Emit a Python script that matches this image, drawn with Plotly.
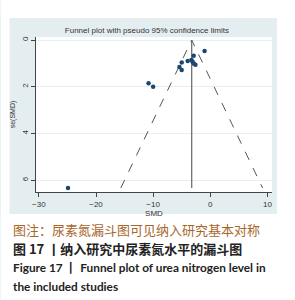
import plotly.graph_objects as go

# Data
smd = [-1.0, -2.9, -3.95, -3.3, -3.1, -2.9, -2.6, -5.0, -5.4, -5.0, -10.8, -10.0, -24.9]
se_smd = [0.47, 0.67, 0.90, 0.85, 0.93, 1.00, 1.06, 0.96, 1.15, 1.28, 1.85, 2.0, 6.33]
pooled = -3.25
x_ticks = [-30, -20, -10, 0, 10]
y_ticks = [0, 2, 4, 6]

W, H = 295, 300
L, R, T, B = 31, 272, 37, 192
pw, ph = R - L, B - T
BG = "#E4EEF1"


def px(xp):
    return (xp - L) / pw


def py(yp):
    return (B - yp) / ph


se_max = max(se_smd)
lo = pooled - 1.96 * se_max
hi = pooled + 1.96 * se_max

fig = go.Figure()
fig.add_trace(go.Scatter(x=[lo, pooled, hi], y=[se_max, 0, se_max], mode="lines",
                         line=dict(color="#555555", width=1, dash="dash"), hoverinfo="skip"))
fig.add_trace(go.Scatter(x=[pooled, pooled], y=[0, se_max], mode="lines",
                         line=dict(color="#666666", width=1.2), hoverinfo="skip"))
fig.add_trace(go.Scatter(x=smd, y=se_smd, mode="markers",
                         marker=dict(color="#1A476F", size=4.5)))

# white page around the light blue-grey graph region
for x0, x1, y0, y1 in [(-5, 300, -5, 18), (-5, 300, 214, 305), (-5, 4, -5, 305), (277, 300, -5, 305)]:
    fig.add_shape(type="rect", xref="paper", yref="paper", x0=px(x0), x1=px(x1), y0=py(y1), y1=py(y0),
                  fillcolor="white", line=dict(width=0), layer="above")

fig.update_layout(
    width=W, height=H, margin=dict(l=L, r=W - R, t=T, b=H - B),
    paper_bgcolor=BG, plot_bgcolor="white", showlegend=False,
    font=dict(family="Liberation Sans, Arial", size=8, color="#333333"),
    title=dict(text="Funnel plot with pseudo 95% confidence limits", x=px(151), xanchor="center",
               y=1 - 30 / H, yanchor="middle", font=dict(size=8, color="#333333")),
)
fig.update_xaxes(range=[-30.5, 10.8], tickvals=x_ticks, ticks="outside", ticklen=4, tickcolor="#444",
                 showline=True, linecolor="#444", linewidth=1, showgrid=False, zeroline=False,
                 title=dict(text="SMD", standoff=2, font=dict(size=8)), tickfont=dict(size=8))
fig.update_yaxes(range=[6.5, -0.13], tickvals=y_ticks, ticks="outside", ticklen=4, tickcolor="#444",
                 showline=True, linecolor="#444", linewidth=1, showgrid=True, gridcolor="#E6F0F2",
                 gridwidth=1, zeroline=False, tickangle=-90,
                 title=dict(text="se(SMD)", standoff=4, font=dict(size=7)), tickfont=dict(size=8))

cjk = "Noto Sans CJK SC"
caps = [
    ("图注：尿素氮漏斗图可见纳入研究基本对称", 229, "#A8672A", False, cjk, 13),
    ("图 17 丨纳入研究中尿素氮水平的漏斗图", 248, "#222222", True, cjk, 13),
    ("Figure 17 丨 Funnel plot of urea nitrogen level in", 267, "#222222", True, "Lato", 11.8),
    ("the included studies", 286, "#222222", True, "Lato", 11.8),
]
for text, yp, col, bold, fam, size in caps:
    fig.add_annotation(text=f"<b>{text}</b>" if bold else text, xref="paper", yref="paper",
                       x=px(5), y=py(yp), xanchor="left", yanchor="middle", showarrow=False,
                       font=dict(family=fam, size=size, color=col))

fig.write_html("out.html")
